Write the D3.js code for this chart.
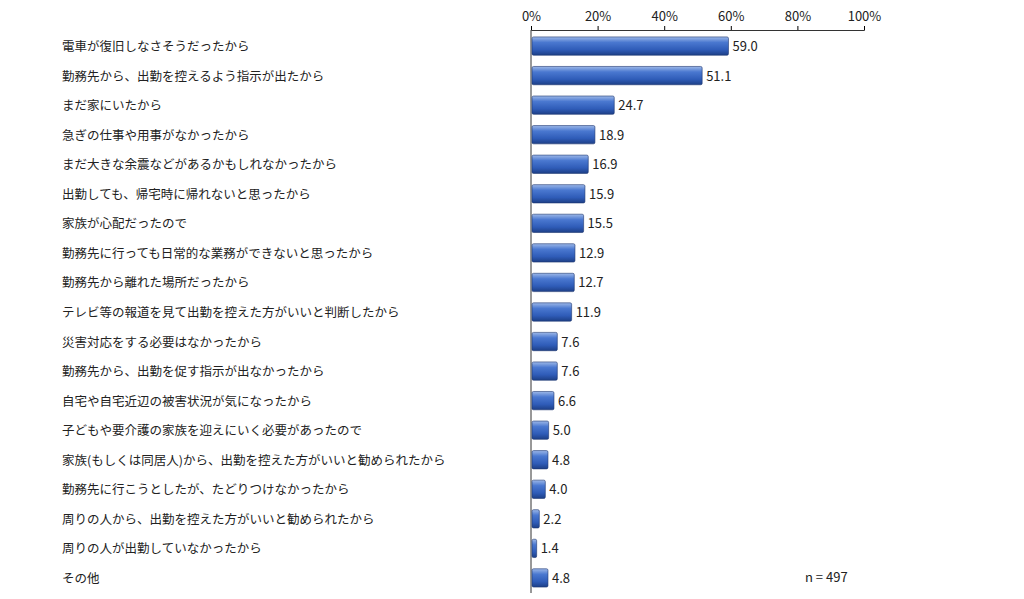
<!DOCTYPE html>
<html><head><meta charset="utf-8">
<script src="https://cdn.jsdelivr.net/npm/d3@7"></script>
<style>body{margin:0;background:#fff}text{font-family:"Noto Sans CJK JP",sans-serif}</style>
</head><body><svg id="c" width="1024" height="599"></svg>
<script>
const categories = ["電車が復旧しなさそうだったから","勤務先から、出勤を控えるよう指示が出たから","まだ家にいたから","急ぎの仕事や用事がなかったから","まだ大きな余震などがあるかもしれなかったから","出勤しても、帰宅時に帰れないと思ったから","家族が心配だったので","勤務先に行っても日常的な業務ができないと思ったから","勤務先から離れた場所だったから","テレビ等の報道を見て出勤を控えた方がいいと判断したから","災害対応をする必要はなかったから","勤務先から、出勤を促す指示が出なかったから","自宅や自宅近辺の被害状況が気になったから","子どもや要介護の家族を迎えにいく必要があったので","家族(もしくは同居人)から、出勤を控えた方がいいと勧められたから","勤務先に行こうとしたが、たどりつけなかったから","周りの人から、出勤を控えた方がいいと勧められたから","周りの人が出勤していなかったから","その他"];
const values = [59.0,51.1,24.7,18.9,16.9,15.9,15.5,12.9,12.7,11.9,7.6,7.6,6.6,5.0,4.8,4.0,2.2,1.4,4.8];
const ticks = [0,20,40,60,80,100];

const svg = d3.select("#c");
const x = d3.scaleLinear().domain([0,100]).range([531,864]);
const y = d3.scaleBand().domain(categories).range([31,593]).paddingInner(0.38).paddingOuter(0.2);

const defs = svg.append("defs");
const g = defs.append("linearGradient").attr("id","bg").attr("x1",0).attr("y1",0).attr("x2",0).attr("y2",1);
[["0%","#9db8e8"],["30%","#4a78d0"],["70%","#2f5cb8"],["100%","#1d3f86"]].forEach(s=>g.append("stop").attr("offset",s[0]).attr("stop-color",s[1]));

const ax = svg.append("g").attr("transform","translate(0,30)")
  .call(d3.axisTop(x).tickValues(ticks).tickFormat(d=>d+"%").tickSize(4));
ax.select(".domain").attr("stroke","#333");
ax.selectAll("text").attr("font-size",13).attr("fill","#222").attr("dy","-2");
svg.append("line").attr("x1",531).attr("x2",531).attr("y1",30).attr("y2",593).attr("stroke","#333");

svg.selectAll("rect.bar").data(values).join("rect").attr("class","bar")
  .attr("x",x(0)+1).attr("y",(d,i)=>y(categories[i]))
  .attr("width",d=>x(d)-x(0)).attr("height",y.bandwidth())
  .attr("fill","url(#bg)").attr("stroke","#1d3570").attr("stroke-width",0.6).attr("rx",1.5);

svg.selectAll("text.val").data(values).join("text").attr("class","val")
  .attr("x",d=>x(d)+5).attr("y",(d,i)=>y(categories[i])+y.bandwidth()/2+5)
  .attr("font-size",13).attr("fill","#222").text(d=>d.toFixed(1));

svg.selectAll("text.cat").data(categories).join("text").attr("class","cat")
  .attr("x",62).attr("y",d=>y(d)+y.bandwidth()/2+5)
  .attr("font-size",12.5).attr("fill","#222").text(d=>d);

svg.append("text").attr("x",805).attr("y",582).attr("font-size",13).attr("fill","#222").text("n = 497");
</script></body></html>
